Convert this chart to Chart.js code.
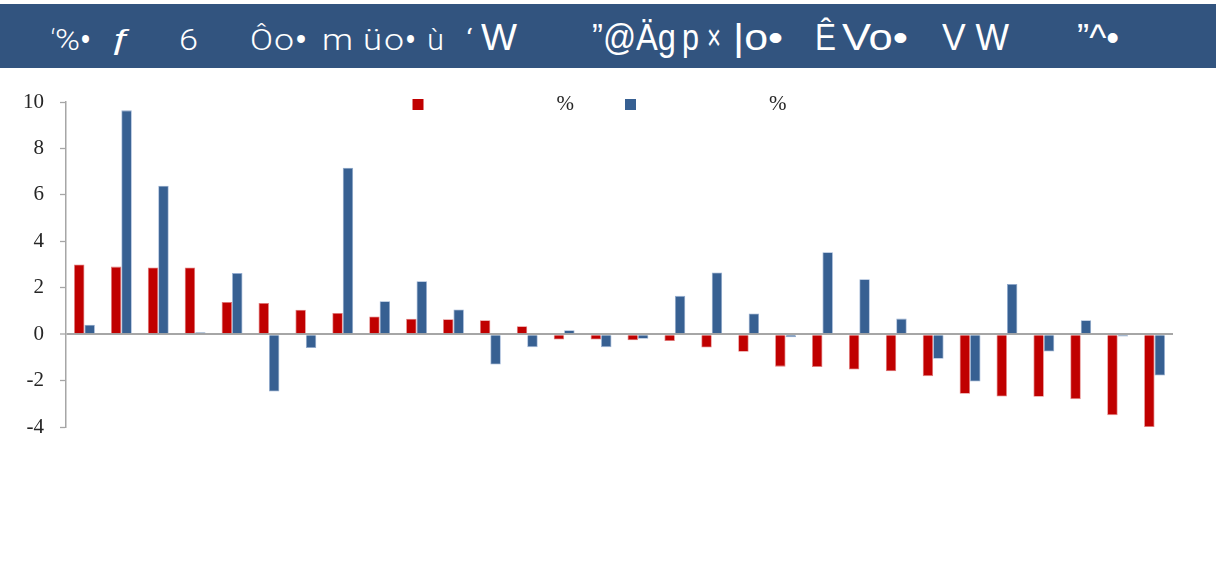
<!DOCTYPE html>
<html><head><meta charset="utf-8">
<script src="https://cdn.jsdelivr.net/npm/chart.js@4.4.0/dist/chart.umd.min.js"></script>
<style>
html,body{margin:0;padding:0;background:#fff;}
#wrap{position:relative;width:1216px;height:563px;overflow:hidden;}
#cv{position:absolute;left:0;top:0;}
#band{position:absolute;left:0;top:4px;width:1216px;height:64px;background:#32547f;}
#band span{position:absolute;color:#fff;line-height:1;white-space:pre;transform-origin:0 0;}
</style></head><body>
<div id="wrap"><canvas id="cv" width="1216" height="563"></canvas><div id="band"></div></div>
<script>
// ---- data ----
const categories = ['1','2','3','4','5','6','7','8','9','10','11','12','13','14','15','16','17','18','19','20','21','22','23','24','25','26','27','28','29','30'];
const seriesRed  = [3.00, 2.91, 2.87, 2.87, 1.39, 1.34, 1.05, 0.91, 0.76, 0.66, 0.64, 0.60, 0.34, -0.23, -0.23, -0.26, -0.30, -0.58, -0.76, -1.40, -1.41, -1.52, -1.60, -1.81, -2.57, -2.69, -2.70, -2.80, -3.49, -4.00];
const seriesBlue = [0.41, 9.64, 6.39, 0.08, 2.63, -2.47, -0.60, 7.17, 1.42, 2.28, 1.06, -1.31, -0.56, 0.17, -0.56, -0.20, 1.65, 2.66, 0.89, -0.13, 3.53, 2.37, 0.67, -1.06, -2.04, 2.16, -0.75, 0.60, -0.10, -1.78];
const seriesNames = ['                       \u200A%', '                       \u200A%'];
const yTicks = [-4, -2, 0, 2, 4, 6, 8, 10];

// ---- title band (text, ink left, ink right, font size, family) ----
const LS = "'Liberation Sans', Arial, sans-serif";
const RB = "Roboto, sans-serif";
const titleLayout = [
  ['‘', 51, 54, 29, RB], ['%', 55, 79, 29, RB], ['•', 81, 89, 29, LS], ['ƒ', 110, 132, 29, LS], ['6', 179, 197, 29, RB],
  ['Ô', 250, 272, 29, RB], ['o', 274, 293, 29, RB], ['•', 296, 305, 29, LS], ['m', 322, 352, 29, RB],
  ['ü', 363, 381, 29, RB], ['o', 384, 403, 29, RB], ['•', 406, 414, 29, LS], ['ù', 427, 443, 29, RB],
  ['‘', 466, 472, 29, RB], ['W', 481, 516, 36, LS],
  ['”@Äg', 592, 675, 36, LS], ['p', 682, 698, 36, LS], ['×', 707, 720, 36, LS],
  ['|o•', 733, 782, 36, LS], ['Ê', 815, 835, 36, LS], ['Vo•', 842, 907, 36, LS], ['V W', 942, 1008, 36, LS],
  ['”^•', 1077, 1118, 36, LS]
];
const band = document.getElementById('band');
titleLayout.forEach(([t, l, r, fs, fam]) => {
  const s = document.createElement('span');
  s.textContent = t;
  s.style.fontFamily = fam;
  s.style.fontSize = fs + 'px';
  s.style.fontWeight = fam === RB ? '300' : '400';
  s.style.left = l + 'px';
  const asc = fam === RB ? 0.928 : 0.905, desc = fam === RB ? 0.244 : 0.212;
  s.style.top = (50 - 4 - (asc - (asc + desc - 1) / 2) * fs) + 'px';
  band.appendChild(s);
  const w = s.getBoundingClientRect().width;
  if (w > 0) s.style.transform = 'scaleX(' + ((r - l + 1) / w) + ')';
});

// ---- chart ----
const legendShift = {
  id: 'legendShift',
  afterLayout(chart) {
    const lg = chart.legend;
    if (!lg) return;
    const dx = 13;
    lg.left += dx; lg.right += dx;
    lg.top = 43; lg.bottom = 160; lg.height = 117;
  }
};
const gray = '#a6a6a6';
new Chart(document.getElementById('cv'), {
  type: 'bar',
  data: {
    labels: categories,
    datasets: [
      { label: seriesNames[0], data: seriesRed, backgroundColor: '#c00000', borderColor: '#e07a7a', borderWidth: 0.8,
        categoryPercentage: 0.565, barPercentage: 1.0 },
      { label: seriesNames[1], data: seriesBlue, backgroundColor: '#376092', borderColor: '#93acd0', borderWidth: 0.8,
        categoryPercentage: 0.565, barPercentage: 1.0 }
    ]
  },
  options: {
    responsive: false,
    animation: false,
    layout: { padding: { left: 0, right: 43, top: 92, bottom: 136 } },
    scales: {
      x: { display: false, offset: true, grid: { display: false } },
      y: {
        min: -4, max: 10,
        afterFit(s) { s.width = 66; },
        afterBuildTicks(s) { s.ticks = yTicks.map(v => ({ value: v })); },
        ticks: { padding: 16, color: '#262626', font: { family: "'Liberation Serif', 'Times New Roman', serif", size: 21 } },
        grid: {
          drawOnChartArea: true, drawTicks: true, tickLength: 6, tickColor: gray, tickWidth: 1.3,
          color: c => (c.tick && c.tick.value === 0) ? gray : 'rgba(0,0,0,0)',
          lineWidth: c => (c.tick && c.tick.value === 0) ? 2 : 1
        },
        border: { display: true, color: gray, width: 1.5 }
      }
    },
    plugins: {
      tooltip: { enabled: false },
      legend: {
        display: true, position: 'top', align: 'center', maxHeight: 10,
        labels: {
          boxWidth: 11, boxHeight: 11, padding: 51, color: '#262626',
          font: { family: "'Liberation Serif', 'Times New Roman', serif", size: 21 },
          generateLabels(chart) {
            return Chart.defaults.plugins.legend.labels.generateLabels(chart).map(l => Object.assign({}, l, { lineWidth: 0, strokeStyle: 'rgba(0,0,0,0)' }));
          }
        }
      }
    }
  },
  plugins: [legendShift]
});
</script>
</body></html>
